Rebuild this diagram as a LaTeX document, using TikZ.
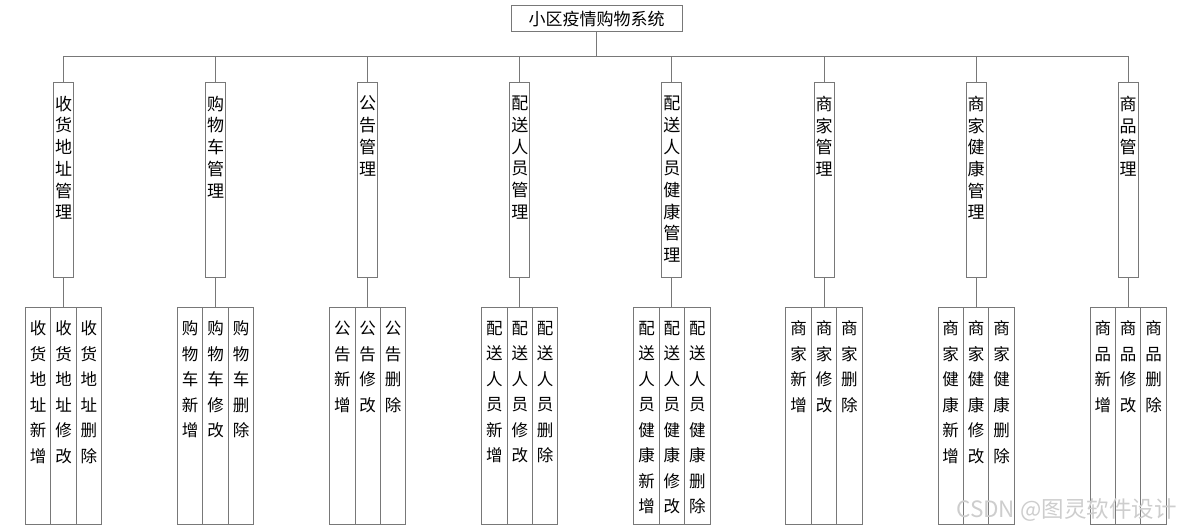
\documentclass[tikz,border=0pt]{standalone}
\usepackage{fontspec}
\setmainfont{Noto Sans CJK SC}
\definecolor{linegray}{RGB}{120,120,120}
\definecolor{wmgray}{RGB}{205,205,205}
% one character per line
\def\vchars#1{\edef\vtmp{#1}\expandafter\vcharsi\vtmp\vend}
\def\vcharsi#1#2\vend{#1\ifx\relax#2\relax\expandafter\vstop\else\expandafter\vnext\fi{#2}}
\def\vstop#1{}
\def\vnext#1{\\\vcharsi#1\vend}
\begin{document}
\begin{tikzpicture}[x=1pt,y=-1pt,line width=1pt,
  every node/.style={font=\fontsize{17}{20}\selectfont,text=black},
  rootbox/.style={draw=linegray,minimum width=171pt,minimum height=26pt,inner sep=0pt},
  midbox/.style={draw=linegray,minimum width=20pt,minimum height=195pt,anchor=north,inner sep=0pt},
  leafbox/.style={draw=linegray,minimum width=25.4pt,minimum height=217pt,anchor=north,inner sep=0pt},
  midtext/.style={anchor=north,inner sep=0pt,align=center,font=\fontsize{17}{21.7}\selectfont},
  leaftext/.style={anchor=north,inner sep=0pt,align=center,font=\fontsize{16.5}{25.5}\selectfont}]
\useasboundingbox (0,0) rectangle (1183,532);
\node[rootbox] (root) at (596.5,19) {小区疫情购物系统};
\foreach \p [count=\i from 0] in {收货地址,购物车,公告,配送人员,配送人员健康,商家,商家健康,商品} {
  \pgfmathsetmacro\cx{63.5+152.1*\i}
  \node[midbox] (m\i) at (\cx,82) {};
  \node[midtext] (mt\i) at ([yshift=-13.5pt]m\i.north) {\vchars{\p 管理}};
  \coordinate (bus\i) at (\cx,57);
  \draw[linegray] (root.south) |- (bus\i) -- (m\i.north);
  \foreach \a [count=\j from 1] in {新增,修改,删除} {
    \node[leafbox] (l\i\j) at ({\cx+25.4*(\j-2)},307) {};
    \node[leaftext] (lt\i\j) at ([yshift=-13.5pt]l\i\j.north) {\vchars{\p\a}};
  }
  \draw[linegray] (m\i.south) -- (l\i2.north);
}
\node[text=wmgray,font=\fontsize{22.5}{22.5}\selectfont,anchor=south east,inner sep=0pt] (wm) at (1177,522) {CSDN @图灵软件设计};
\end{tikzpicture}
\end{document}
